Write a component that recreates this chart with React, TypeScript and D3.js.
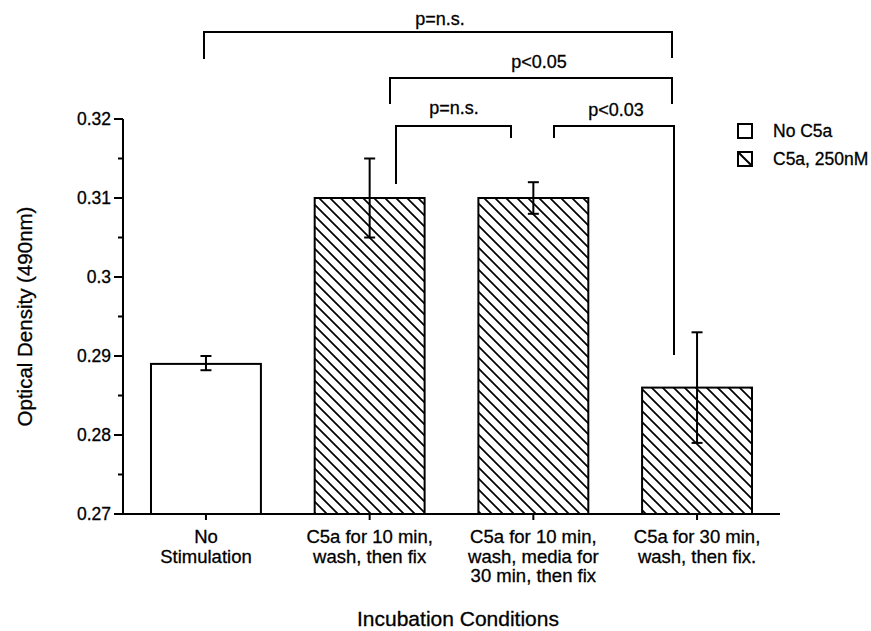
import React from "react";
import * as d3 from "d3";

const categories = ["cat1", "cat2", "cat3", "cat4"];
const categoryLabels = [
  ["No", "Stimulation"],
  ["C5a for 10 min,", "wash, then fix"],
  ["C5a for 10 min,", "wash, media for", "30 min, then fix"],
  ["C5a for 30 min,", "wash, then fix."],
];
const values = [0.289, 0.31, 0.31, 0.286];
const errHigh = [0.29, 0.315, 0.312, 0.293];
const errLow = [0.2882, 0.305, 0.308, 0.279];
const hatched = [false, true, true, true];
const yTicks = [0.27, 0.28, 0.29, 0.3, 0.31, 0.32];
const yTickLabels = ["0.27", "0.28", "0.29", "0.3", "0.31", "0.32"];
const yMinorTicks = [0.275, 0.285, 0.295, 0.305, 0.315];
const legendLabels = ["No C5a", "C5a, 250nM"];

const brackets = [
  { label: "p=n.s.", x1: 204, x2: 672, y: 32, yl1: 59, yl2: 58, lx: 440, ly: 25 },
  { label: "p<0.05", x1: 390, x2: 672, y: 78, yl1: 104, yl2: 104, lx: 539, ly: 68 },
  { label: "p=n.s.", x1: 396, x2: 511, y: 126, yl1: 184, yl2: 138, lx: 454, ly: 114 },
  { label: "p<0.03", x1: 554, x2: 674, y: 126, yl1: 138, yl2: 355, lx: 616, ly: 116 },
];

const W = 871;
const H = 631;
const font = "'Liberation Sans', Arial, Helvetica, sans-serif";
const ts = { stroke: "#000", strokeWidth: 0.3 };

export default function App() {
  const x = d3
    .scaleBand<string>()
    .domain(categories)
    .range([123, 780])
    .paddingInner(0.3285)
    .paddingOuter(0.171);
  const y = d3.scaleLinear().domain([0.27, 0.32]).range([514, 119]);
  const bw = x.bandwidth();
  const x0 = 123;
  const x1 = 780;
  const y0 = y(0.27);

  return (
    <div style={{ position: "absolute", left: 0, top: 0 }}>
      <svg width={W} height={H} style={{ display: "block", background: "#fff" }} fontFamily={font}>
        <defs>
          <pattern id="hatch" patternUnits="userSpaceOnUse" width={11} height={11}>
            <path d="M-2,9 L2,13 M0,0 L11,11 M9,-2 L13,2" stroke="#000" strokeWidth={1.7} />
          </pattern>
          <pattern id="hatchLegend" patternUnits="userSpaceOnUse" width={15} height={15} x={738} y={152}>
            <path d="M0,0 L15,15" stroke="#000" strokeWidth={2} />
          </pattern>
        </defs>

        {/* bars */}
        {categories.map((c, i) => (
          <rect
            key={c}
            x={x(c)}
            y={y(values[i])}
            width={bw}
            height={y0 - y(values[i])}
            fill={hatched[i] ? "url(#hatch)" : "#fff"}
            stroke="#000"
            strokeWidth={2}
          />
        ))}

        {/* error bars */}
        {categories.map((c, i) => {
          const cx = (x(c) as number) + bw / 2;
          return (
            <g key={"e" + c} stroke="#000" strokeWidth={2}>
              <line x1={cx} x2={cx} y1={y(errHigh[i])} y2={y(errLow[i])} />
              <line x1={cx - 5.5} x2={cx + 5.5} y1={y(errHigh[i])} y2={y(errHigh[i])} />
              <line x1={cx - 5.5} x2={cx + 5.5} y1={y(errLow[i])} y2={y(errLow[i])} />
            </g>
          );
        })}

        {/* y axis */}
        <line x1={x0} x2={x0} y1={y(0.32)} y2={y0} stroke="#000" strokeWidth={2} />
        {yTicks.map((t, i) => (
          <g key={"yt" + t}>
            <line x1={x0 - 9} x2={x0} y1={y(t)} y2={y(t)} stroke="#000" strokeWidth={2} />
            <text x={111} y={y(t)} dy="0.36em" textAnchor="end" fontSize={17.5} {...ts}>
              {yTickLabels[i]}
            </text>
          </g>
        ))}
        {yMinorTicks.map((t) => (
          <line key={"ym" + t} x1={x0 - 5} x2={x0} y1={y(t)} y2={y(t)} stroke="#000" strokeWidth={2} />
        ))}

        {/* x axis */}
        <line x1={x0 - 1} x2={x1} y1={y0} y2={y0} stroke="#000" strokeWidth={2} />
        {categories.map((c, i) => {
          const cx = (x(c) as number) + bw / 2;
          return (
            <g key={"xt" + c}>
              <line x1={cx} x2={cx} y1={y0} y2={y0 + 6} stroke="#000" strokeWidth={2} />
              {categoryLabels[i].map((l, j) => (
                <text key={j} x={cx} y={543 + j * 19.5} textAnchor="middle" fontSize={18.5} {...ts}>
                  {l}
                </text>
              ))}
            </g>
          );
        })}

        {/* axis titles */}
        <text
          transform={`translate(32, ${(y(0.32) + y0) / 2}) rotate(-90)`}
          textAnchor="middle"
          fontSize={20.5}
          {...ts}
        >
          Optical Density (490nm)
        </text>
        <text x={458} y={626} textAnchor="middle" fontSize={21} {...ts}>
          Incubation Conditions
        </text>

        {/* significance brackets */}
        {brackets.map((b, i) => (
          <g key={"b" + i}>
            <path
              d={`M${b.x1},${b.yl1} L${b.x1},${b.y} L${b.x2},${b.y} L${b.x2},${b.yl2}`}
              fill="none"
              stroke="#000"
              strokeWidth={2}
            />
            <text x={b.lx} y={b.ly} textAnchor="middle" fontSize={18} {...ts}>
              {b.label}
            </text>
          </g>
        ))}

        {/* legend */}
        <rect x={738} y={124} width={14} height={14} fill="#fff" stroke="#000" strokeWidth={2} />
        <rect x={738} y={152} width={14} height={14} fill="url(#hatchLegend)" stroke="#000" strokeWidth={2} />
        <text x={773} y={137} fontSize={17.5} {...ts}>
          {legendLabels[0]}
        </text>
        <text x={773} y={165} fontSize={17.5} {...ts}>
          {legendLabels[1]}
        </text>
      </svg>
    </div>
  );
}
